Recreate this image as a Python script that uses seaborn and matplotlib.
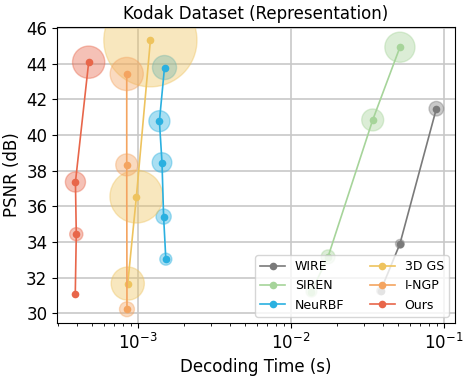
import matplotlib
matplotlib.use("Agg")
import matplotlib.pyplot as plt
import seaborn as sns
import pandas as pd
import numpy as np

methods = ["WIRE", "SIREN", "NeuRBF", "3D GS", "I-NGP", "Ours"]
colors = ["#7a7a7a", "#a6d49a", "#2ab0e0", "#eec35e", "#f4a460", "#e8664a"]

# decoding time (s)
wire_t = [0.0891, 0.0515, 0.0385]
siren_t = [0.0515, 0.0342, 0.01746, 0.0136]
neurbf_t = [0.00149, 0.00138, 0.001435, 0.00147, 0.00152]
gs_t = [0.001205, 0.000976, 0.000857]
ingp_t = [0.000844, 0.000844, 0.000847]
ours_t = [0.000476, 0.000390, 0.000395, 0.000389]

# PSNR (dB)
wire_p = [41.47, 33.89, 31.25]
siren_p = [44.92, 40.84, 33.16, 31.21]
neurbf_p = [43.78, 40.77, 38.45, 35.42, 33.03]
gs_p = [45.31, 36.54, 31.66]
ingp_p = [43.42, 38.32, 30.22]
ours_p = [44.08, 37.36, 34.43, 31.07]

# bubble size (model size, relative)
wire_b = [110, 40, 30]
siren_b = [470, 250, 100, 60]
neurbf_b = [300, 230, 200, 120, 75]
gs_b = [4500, 1450, 570]
ingp_b = [570, 250, 115]
ours_b = [540, 210, 90, 0]

times = [wire_t, siren_t, neurbf_t, gs_t, ingp_t, ours_t]
psnrs = [wire_p, siren_p, neurbf_p, gs_p, ingp_p, ours_p]
bubbles = [wire_b, siren_b, neurbf_b, gs_b, ingp_b, ours_b]

fig = plt.figure(figsize=(4.72, 3.76), dpi=100)
ax = fig.add_axes([0.121, 0.141, 0.843, 0.787])

for m, c, t, p, b in zip(methods, colors, times, psnrs, bubbles):
    df = pd.DataFrame({"t": t, "p": p, "b": b})
    sns.scatterplot(data=df, x="t", y="p", s=np.array(b) * 1.0, color=c,
                    alpha=0.4, linewidth=1, edgecolor=c, ax=ax, legend=False, zorder=2)
    sns.lineplot(data=df, x="t", y="p", sort=False, estimator=None, color=c,
                 marker="o", markersize=5.5, markeredgewidth=0, linewidth=1.2,
                 label=m, ax=ax, zorder=3)

ax.set_xscale("log")
ax.set_xlim(2.96e-4, 0.118)
ax.set_ylim(29.45, 46.05)
ax.set_yticks([30, 32, 34, 36, 38, 40, 42, 44, 46])
ax.grid(True, which="major", color="#c8c8c8", linewidth=1.2, zorder=0)
ax.set_axisbelow(True)
for s in ax.spines.values():
    s.set_color("black")
    s.set_linewidth(0.8)
ax.tick_params(labelsize=12)
ax.set_xlabel("Decoding Time (s)", fontsize=12)
ax.set_ylabel("PSNR (dB)", fontsize=12)
ax.set_title("Kodak Dataset (Representation)", fontsize=12)
ax.legend(loc="lower right", ncol=2, fontsize=9, framealpha=0.8)

fig.savefig("out.png", dpi=100)
